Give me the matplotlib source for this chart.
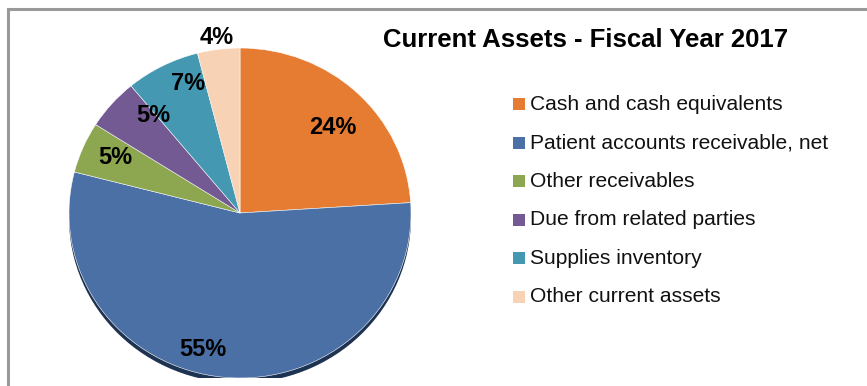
import matplotlib
matplotlib.use("Agg")
import matplotlib.pyplot as plt
from matplotlib.patches import Rectangle, Ellipse
import numpy as np

plt.rcParams['font.family'] = ['Liberation Sans', 'DejaVu Sans']

# Current assets breakdown (percent of total)
categories = [
    "Cash and cash equivalents",
    "Patient accounts receivable, net",
    "Other receivables",
    "Due from related parties",
    "Supplies inventory",
    "Other current assets",
]
shares = [24, 55, 5, 5, 7, 4]
colors = ["#E67C31", "#4A70A6", "#8CA74F", "#745A93", "#4598B1", "#F8D2B4"]
title = "Current Assets - Fiscal Year 2017"

W, H = 867, 386
fig = plt.figure(figsize=(W / 100, H / 100), dpi=100)
fig.patch.set_facecolor("white")

# outer frame (clipped on the right and bottom)
frame = fig.add_axes([0, 0, 1, 1])
frame.set_xlim(0, W)
frame.set_ylim(H, 0)
frame.axis("off")
frame.plot([7.5, 7.5, W + 5], [H + 5, 9, 9], color="#999999", lw=2.2,
           solid_joinstyle="miter", clip_on=False)

# pie area in pixel terms
cx, cy, rx, ry = 240, 213, 171, 165
ax = fig.add_axes([(cx - rx) / W, (H - cy - ry) / H, 2 * rx / W, 2 * ry / H])
ax.add_patch(Ellipse((0, -0.03), 2.0, 2.0, facecolor="#1E3352",
                     edgecolor="none", zorder=0))
wedges, texts, autotexts = ax.pie(
    shares, colors=colors, startangle=90, counterclock=False,
    autopct="%1.0f%%", pctdistance=0.8,
    wedgeprops=dict(edgecolor="white", linewidth=0.4),
    textprops=dict(fontsize=17, fontweight="bold", color="black"),
)
ax.set_aspect("auto")
ax.set_xlim(-1, 1)
ax.set_ylim(-1, 1)

# hand-tuned label spots (pixels)
label_px = [(333, 127), (203, 349), (115, 158), (153, 115), (188, 83), (217, 37)]
for t, (px, py) in zip(autotexts, label_px):
    t.set_position(((px - cx) / rx, (cy - py) / ry))
    t.set_clip_on(False)

# title
frame.text(586, 40, title, fontsize=18.5, fontweight="bold",
           ha="center", va="center")

# legend
y0, dy = 104, 38.6
for i, (name, col) in enumerate(zip(categories, colors)):
    y = y0 + i * dy
    frame.add_patch(Rectangle((513, y - 6), 12, 12, facecolor=col,
                              edgecolor="none"))
    frame.text(530, y, name, fontsize=15.1, ha="left", va="center",
               color="#111111")

fig.savefig("out.png", dpi=100)
